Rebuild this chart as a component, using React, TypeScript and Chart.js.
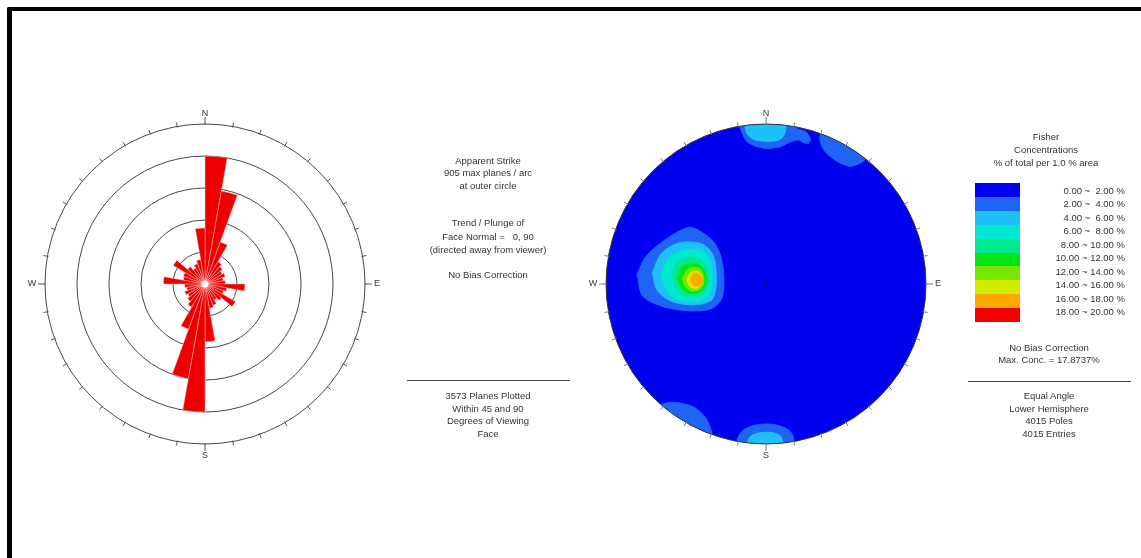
import React, { useEffect, useRef } from "react";
import { Chart, registerables } from "chart.js";

Chart.register(...registerables);

// ---------- Rose diagram data (apparent strike, 10° bins, clockwise from N) ----------
const ROSE_LABELS = [
  "0-10", "10-20", "20-30", "30-40", "40-50", "50-60", "60-70", "70-80", "80-90",
  "90-100", "100-110", "110-120", "120-130", "130-140", "140-150", "150-160", "160-170", "170-180",
  "180-190", "190-200", "200-210", "210-220", "220-230", "230-240", "240-250", "250-260", "260-270",
  "270-280", "280-290", "290-300", "300-310", "310-320", "320-330", "330-340", "340-350", "350-360",
];
const ROSE_COUNTS = [
  724, 534, 253, 145, 128, 112, 122, 105, 115,
  226, 124, 112, 199, 122, 104, 128, 140, 326,
  724, 543, 272, 150, 128, 112, 122, 105, 115,
  235, 124, 130, 208, 128, 104, 122, 140, 317,
];
const ROSE_MAX = 905;
const ROSE_RINGS = 5;

// ---------- Stereonet contour legend ----------
const LEVEL_LABELS = [
  "0.00 ~  2.00 %", "2.00 ~  4.00 %", "4.00 ~  6.00 %", "6.00 ~  8.00 %", "8.00 ~ 10.00 %",
  "10.00 ~ 12.00 %", "12.00 ~ 14.00 %", "14.00 ~ 16.00 %", "16.00 ~ 18.00 %", "18.00 ~ 20.00 %",
];
const LEVEL_COLORS = [
  "#0000f0", "#1e64f5", "#1ec0f8", "#00e8d0", "#00e890",
  "#00e614", "#78e600", "#d2ec00", "#ffa800", "#f00000",
];

// ---------- Contour polygons (stereonet unit-circle coordinates, y up) ----------
const W_2_4 = [
  [-0.806, 0.06], [-0.75, 0.173], [-0.625, 0.28], [-0.494, 0.352], [-0.431, 0.342], [-0.317, 0.25],
  [-0.269, 0.11], [-0.272, -0.077], [-0.335, -0.152], [-0.473, -0.168], [-0.64, -0.142], [-0.77, -0.077],
];
const W_4_6 = [
  [-0.71, 0.07], [-0.655, 0.19], [-0.54, 0.258], [-0.4, 0.25], [-0.33, 0.18], [-0.31, 0.027],
  [-0.335, -0.095], [-0.44, -0.13], [-0.585, -0.11], [-0.68, -0.04],
];
const W_6_8 = [
  [-0.655, 0.05], [-0.61, 0.16], [-0.5, 0.212], [-0.39, 0.2], [-0.345, 0.12], [-0.34, -0.02],
  [-0.375, -0.09], [-0.49, -0.11], [-0.6, -0.07],
];
const W_8_10 = [
  [-0.59, 0.05], [-0.56, 0.13], [-0.49, 0.168], [-0.415, 0.158], [-0.37, 0.1], [-0.36, 0.02],
  [-0.385, -0.055], [-0.46, -0.082], [-0.545, -0.05],
];
const W_10_12 = [
  [-0.555, 0.04], [-0.525, 0.105], [-0.47, 0.13], [-0.418, 0.12], [-0.382, 0.072], [-0.376, 0.01],
  [-0.405, -0.043], [-0.46, -0.06], [-0.523, -0.033],
];
const W_12_14 = [
  [-0.522, 0.035], [-0.492, 0.087], [-0.45, 0.103], [-0.41, 0.092], [-0.388, 0.046], [-0.392, -0.006],
  [-0.42, -0.037], [-0.47, -0.043], [-0.507, -0.011],
];
const W_14_16 = [
  [-0.497, 0.03], [-0.472, 0.071], [-0.44, 0.082], [-0.408, 0.066], [-0.397, 0.03], [-0.408, -0.011],
  [-0.44, -0.026], [-0.476, -0.016],
];
const W_16_18 = [
  [-0.472, 0.03], [-0.456, 0.06], [-0.43, 0.066], [-0.405, 0.047], [-0.398, 0.017], [-0.413, -0.006],
  [-0.44, -0.012], [-0.464, 0.004],
];
const N_2_4 = [
  [-0.2, 1.05], [-0.165, 0.985], [-0.119, 0.89], [-0.015, 0.848], [0.09, 0.858], [0.152, 0.888],
  [0.204, 0.9], [0.231, 0.885], [0.267, 0.88], [0.277, 0.91], [0.246, 0.954], [0.194, 0.975], [0.3, 1.05],
];
const N_4_6 = [
  [-0.1, 1.05], [-0.13, 1.0], [-0.12, 0.94], [-0.08, 0.905], [0.0, 0.892], [0.08, 0.9],
  [0.115, 0.935], [0.125, 1.0], [0.1, 1.05],
];
const NE_2_4 = [
  [0.45, 0.95], [0.34, 0.933], [0.36, 0.84], [0.444, 0.767], [0.527, 0.735], [0.59, 0.756],
  [0.62, 0.777], [0.7, 0.8],
];
const S_2_4 = [
  [-0.15, -1.05], [-0.18, -0.98], [-0.15, -0.92], [-0.08, -0.885], [0.0, -0.875], [0.08, -0.885],
  [0.15, -0.92], [0.175, -0.98], [0.15, -1.05],
];
const S_4_6 = [
  [-0.08, -1.05], [-0.115, -0.99], [-0.095, -0.95], [-0.04, -0.93], [0.03, -0.928], [0.085, -0.945],
  [0.105, -0.99], [0.08, -1.05],
];
const SW_2_4 = [
  [-0.7, -0.85], [-0.66, -0.76], [-0.6, -0.74], [-0.53, -0.745], [-0.45, -0.77], [-0.39, -0.82],
  [-0.355, -0.88], [-0.34, -0.96], [-0.45, -1.0],
];

const CONTOURS: { level: number; pts: number[][] }[] = [
  { level: 1, pts: W_2_4 },
  { level: 1, pts: N_2_4 },
  { level: 1, pts: NE_2_4 },
  { level: 1, pts: S_2_4 },
  { level: 1, pts: SW_2_4 },
  { level: 2, pts: W_4_6 },
  { level: 2, pts: N_4_6 },
  { level: 2, pts: S_4_6 },
  { level: 3, pts: W_6_8 },
  { level: 4, pts: W_8_10 },
  { level: 5, pts: W_10_12 },
  { level: 6, pts: W_12_14 },
  { level: 7, pts: W_14_16 },
  { level: 8, pts: W_16_18 },
];

const FONT = "'Liberation Sans', Arial, sans-serif";
const CARDINALS = [
  { a: 0, t: "N" },
  { a: 90, t: "E" },
  { a: 180, t: "S" },
  { a: 270, t: "W" },
];

function drawCompass(ctx: CanvasRenderingContext2D, cx: number, cy: number, R: number, color: string) {
  ctx.save();
  ctx.strokeStyle = color;
  ctx.lineWidth = 1;
  for (let d = 0; d < 360; d += 10) {
    const rad = (d * Math.PI) / 180;
    const sx = Math.sin(rad);
    const sy = -Math.cos(rad);
    const len = d % 90 === 0 ? 7 : 4;
    ctx.beginPath();
    ctx.moveTo(cx + sx * (R - 1), cy + sy * (R - 1));
    ctx.lineTo(cx + sx * (R + len), cy + sy * (R + len));
    ctx.stroke();
  }
  ctx.fillStyle = "#333";
  ctx.font = `9px ${FONT}`;
  ctx.textAlign = "center";
  ctx.textBaseline = "middle";
  for (const c of CARDINALS) {
    const rad = (c.a * Math.PI) / 180;
    const off = c.a === 0 ? 10 : c.a === 180 ? 12 : c.a === 90 ? 12 : 13;
    ctx.fillText(c.t, cx + Math.sin(rad) * (R + off), cy - Math.cos(rad) * (R + off));
  }
  ctx.restore();
}

function RoseChart() {
  const ref = useRef<HTMLCanvasElement | null>(null);
  useEffect(() => {
    if (!ref.current) return;
    const rosePlugin = {
      id: "roseDecor",
      afterDatasetsDraw(chart: any) {
        const s = chart.scales.r;
        const ctx = chart.ctx;
        ctx.save();
        ctx.fillStyle = "#ffffff";
        ctx.beginPath();
        ctx.arc(s.xCenter, s.yCenter, 3.5, 0, Math.PI * 2);
        ctx.fill();
        ctx.restore();
        drawCompass(ctx, s.xCenter, s.yCenter, s.drawingArea, "#555");
      },
    };
    const chart = new Chart(ref.current, {
      type: "polarArea",
      data: {
        labels: ROSE_LABELS,
        datasets: [
          {
            data: ROSE_COUNTS,
            backgroundColor: "#ee0000",
            borderColor: "#ffc8c8",
            borderWidth: 0.45,
          },
        ],
      },
      options: {
        animation: false,
        responsive: false,
        devicePixelRatio: 1,
        layout: { padding: 20 },
        plugins: { legend: { display: false }, tooltip: { enabled: false } },
        scales: {
          r: {
            min: 0,
            max: ROSE_MAX,
            startAngle: 0,
            ticks: { display: false, stepSize: ROSE_MAX / ROSE_RINGS },
            grid: { color: "#333", lineWidth: 0.9, circular: true },
            angleLines: { display: false },
            pointLabels: { display: false },
          },
        },
      },
      plugins: [rosePlugin],
    } as any);
    return () => chart.destroy();
  }, []);
  return <canvas ref={ref} width={360} height={360} style={{ position: "absolute", left: 25, top: 104 }} />;
}

function StereoChart() {
  const ref = useRef<HTMLCanvasElement | null>(null);
  useEffect(() => {
    if (!ref.current) return;
    const geom = (chart: any) => {
      const x = chart.scales.x;
      const y = chart.scales.y;
      const cx = x.getPixelForValue(0);
      const cy = y.getPixelForValue(0);
      const R = x.getPixelForValue(1) - cx;
      return { cx, cy, R };
    };
    const netPlugin = {
      id: "stereoNet",
      beforeDatasetsDraw(chart: any) {
        const { cx, cy, R } = geom(chart);
        const ctx = chart.ctx;
        ctx.save();
        ctx.beginPath();
        ctx.arc(cx, cy, R, 0, Math.PI * 2);
        ctx.fillStyle = LEVEL_COLORS[0];
        ctx.fill();
        ctx.clip();
      },
      afterDatasetsDraw(chart: any) {
        const { cx, cy, R } = geom(chart);
        const ctx = chart.ctx;
        ctx.restore();
        ctx.save();
        ctx.strokeStyle = "#333";
        ctx.lineWidth = 1;
        ctx.beginPath();
        ctx.arc(cx, cy, R, 0, Math.PI * 2);
        ctx.stroke();
        ctx.strokeStyle = "#00006a";
        ctx.beginPath();
        ctx.moveTo(cx - 3, cy);
        ctx.lineTo(cx + 3, cy);
        ctx.moveTo(cx, cy - 3);
        ctx.lineTo(cx, cy + 3);
        ctx.stroke();
        ctx.restore();
        drawCompass(ctx, cx, cy, R, "#777");
      },
    };
    const datasets = CONTOURS.map((c) => ({
      data: [...c.pts, c.pts[0]].map((p) => ({ x: p[0], y: p[1] })),
      backgroundColor: LEVEL_COLORS[c.level],
      borderColor: LEVEL_COLORS[c.level],
      borderWidth: 1,
      pointRadius: 0,
      fill: "shape",
      tension: 0.3,
      order: 100 - c.level,
    }));
    const chart = new Chart(ref.current, {
      type: "line",
      data: { datasets },
      options: {
        animation: false,
        responsive: false,
        devicePixelRatio: 1,
        layout: { padding: 20 },
        plugins: { legend: { display: false }, tooltip: { enabled: false } },
        scales: {
          x: { type: "linear", min: -1, max: 1, display: false },
          y: { type: "linear", min: -1, max: 1, display: false },
        },
      },
      plugins: [netPlugin],
    } as any);
    return () => chart.destroy();
  }, []);
  return <canvas ref={ref} width={360} height={360} style={{ position: "absolute", left: 586, top: 104 }} />;
}

function TextLine({ cx, cy, children }: { cx: number; cy: number; children: React.ReactNode }) {
  return (
    <div
      style={{
        position: "absolute",
        left: cx - 120,
        top: cy - 7,
        width: 240,
        height: 14,
        lineHeight: "14px",
        textAlign: "center",
        fontSize: 9.5,
        color: "#333",
        fontFamily: FONT,
        whiteSpace: "pre",
      }}
    >
      {children}
    </div>
  );
}

const MID_TOP = ["Apparent Strike", "905 max planes / arc", "at outer circle"];
const MID_TOP_Y = [160.5, 173, 186];
const MID_MID = ["Trend / Plunge of", "Face Normal =   0, 90", "(directed away from viewer)"];
const MID_MID_Y = [223, 236.5, 249.5];
const MID_BOTTOM = ["3573 Planes Plotted", "Within 45 and 90", "Degrees of Viewing", "Face"];
const MID_BOTTOM_Y = [396, 408.5, 421, 433.5];
const RIGHT_TOP = ["Fisher", "Concentrations", "% of total per 1.0 % area"];
const RIGHT_TOP_Y = [137, 150, 163];
const RIGHT_BOTTOM = ["Equal Angle", "Lower Hemisphere", "4015 Poles", "4015 Entries"];
const RIGHT_BOTTOM_Y = [396, 408.5, 421, 433.5];

export default function App() {
  const rowH = 139 / LEVEL_COLORS.length;
  return (
    <div style={{ position: "absolute", left: 0, top: 0, width: 1141, height: 558, background: "#fff", overflow: "hidden" }}>
      <div
        style={{
          position: "absolute",
          left: 7,
          top: 7,
          width: 1141,
          height: 560,
          borderTop: "4px solid #000",
          borderLeft: "5px solid #000",
          borderTopLeftRadius: 2,
        }}
      />
      <RoseChart />
      <StereoChart />

      {MID_TOP.map((t, i) => (
        <TextLine key={"mt" + i} cx={488} cy={MID_TOP_Y[i]}>{t}</TextLine>
      ))}
      {MID_MID.map((t, i) => (
        <TextLine key={"mm" + i} cx={488} cy={MID_MID_Y[i]}>{t}</TextLine>
      ))}
      <TextLine cx={488} cy={274.5}>No Bias Correction</TextLine>
      <div style={{ position: "absolute", left: 407, top: 380, width: 163, height: 1, background: "#444" }} />
      {MID_BOTTOM.map((t, i) => (
        <TextLine key={"mb" + i} cx={488} cy={MID_BOTTOM_Y[i]}>{t}</TextLine>
      ))}

      {RIGHT_TOP.map((t, i) => (
        <TextLine key={"rt" + i} cx={1046} cy={RIGHT_TOP_Y[i]}>{t}</TextLine>
      ))}
      {LEVEL_COLORS.map((c, i) => (
        <div
          key={"sw" + i}
          style={{ position: "absolute", left: 975, top: 183 + i * rowH, width: 45, height: rowH + 0.5, background: c }}
        />
      ))}
      {LEVEL_LABELS.map((t, i) => (
        <div
          key={"ll" + i}
          style={{
            position: "absolute",
            left: 1020,
            top: 190.5 + i * 13.55 - 7,
            width: 105,
            height: 14,
            lineHeight: "14px",
            textAlign: "right",
            fontSize: 9.5,
            color: "#333",
            fontFamily: FONT,
            whiteSpace: "pre",
          }}
        >
          {t}
        </div>
      ))}
      <TextLine cx={1049} cy={347.5}>No Bias Correction</TextLine>
      <TextLine cx={1049} cy={359.5}>Max. Conc. = 17.8737%</TextLine>
      <div style={{ position: "absolute", left: 968, top: 381, width: 163, height: 1, background: "#444" }} />
      {RIGHT_BOTTOM.map((t, i) => (
        <TextLine key={"rb" + i} cx={1049} cy={RIGHT_BOTTOM_Y[i]}>{t}</TextLine>
      ))}
    </div>
  );
}
